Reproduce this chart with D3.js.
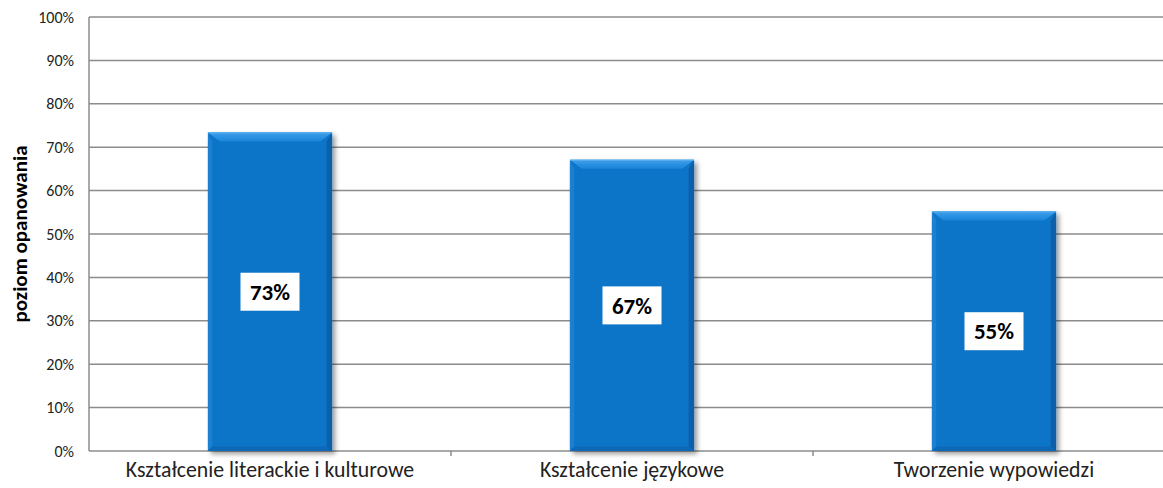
<!DOCTYPE html>
<html><head><meta charset="utf-8">
<script src="https://cdn.jsdelivr.net/npm/d3@7"></script>
<style>body{margin:0;background:#fff}svg{display:block}</style>
</head><body>
<svg id="c" width="1163" height="488"></svg>
<script>
const categories = ["Kształcenie literackie i kulturowe","Kształcenie językowe","Tworzenie wypowiedzi"];
const values = [0.734, 0.671, 0.552];
const yTicks = [0,0.1,0.2,0.3,0.4,0.5,0.6,0.7,0.8,0.9,1.0];
const yTitle = "poziom opanowania";

const svg = d3.select("#c");
const font = "Carlito, Calibri, Lato, 'Open Sans', sans-serif";
const m = {l:89, t:17, r:1175, b:451};
const x = d3.scaleBand().domain(categories).range([m.l, m.r]).paddingInner(0.657).paddingOuter(0.3285);
const y = d3.scaleLinear().domain([0,1]).range([m.b, m.t]);

const defs = svg.append("defs");
const f = defs.append("filter").attr("id","sh").attr("x","-20%").attr("y","-20%").attr("width","140%").attr("height","140%");
f.append("feGaussianBlur").attr("in","SourceAlpha").attr("stdDeviation",2.5).attr("result","b");
f.append("feOffset").attr("in","b").attr("dx",2.5).attr("dy",2.5).attr("result","o");
f.append("feComponentTransfer").attr("in","o").attr("result","o2").append("feFuncA").attr("type","linear").attr("slope",0.4);
const fm = f.append("feMerge"); fm.append("feMergeNode").attr("in","o2"); fm.append("feMergeNode").attr("in","SourceGraphic");

const gTop = defs.append("linearGradient").attr("id","gt").attr("x1",0).attr("y1",0).attr("x2",0).attr("y2",1);
gTop.append("stop").attr("offset","0%").attr("stop-color","#3f9fea");
gTop.append("stop").attr("offset","100%").attr("stop-color","#1a84d9");

// gridlines
svg.append("g").selectAll("line").data(yTicks).join("line")
  .attr("x1", m.l).attr("x2", m.r).attr("y1", d=>y(d)).attr("y2", d=>y(d))
  .attr("stroke","#8c8c8c").attr("stroke-width",1.5);

// y axis line
svg.append("line").attr("x1",m.l).attr("x2",m.l).attr("y1",m.t).attr("y2",m.b)
  .attr("stroke","#8c8c8c").attr("stroke-width",1.5);

// y tick labels
svg.append("g").selectAll("text").data(yTicks).join("text")
  .attr("x", 74).attr("y", d=>y(d)).attr("dy","0.35em").attr("text-anchor","end")
  .attr("font-family",font).attr("font-size",16).attr("fill","#222")
  .text(d=>d3.format(".0%")(d));

// category tick marks (between bands)
const bounds = categories.slice(0,-1).map(c=>x(c) + x.bandwidth()/2 + x.step()/2);
svg.append("g").selectAll("line").data(bounds).join("line")
  .attr("x1",d=>d).attr("x2",d=>d).attr("y1",m.b).attr("y2",m.b+5)
  .attr("stroke","#8c8c8c").attr("stroke-width",1.5);

// bars
const bv = 9;
const bars = svg.append("g").selectAll("g").data(categories).join("g").attr("filter","url(#sh)");
bars.each(function(c,i){
  const g = d3.select(this);
  const x0 = x(c), x1 = x(c)+x.bandwidth(), y0 = y(values[i]), y1 = y(0);
  g.append("rect").attr("x",x0).attr("y",y0).attr("width",x1-x0).attr("height",y1-y0).attr("fill","#0a74c8");
  g.append("polygon").attr("points",[[x0,y0],[x0+bv*0.5,y0+bv],[x0+bv*0.5,y1-bv*0.5],[x0,y1]].join(" ")).attr("fill","#1a7fd0");
  g.append("polygon").attr("points",[[x1,y0],[x1-bv*0.6,y0+bv],[x1-bv*0.6,y1-bv*0.5],[x1,y1]].join(" ")).attr("fill","#075fa8");
  g.append("polygon").attr("points",[[x0,y1],[x0+bv*0.5,y1-bv*0.5],[x1-bv*0.6,y1-bv*0.5],[x1,y1]].join(" ")).attr("fill","#0867b6");
  g.append("polygon").attr("points",[[x0,y0],[x1,y0],[x1-bv*1.3,y0+bv],[x0+bv*1.3,y0+bv]].join(" ")).attr("fill","url(#gt)");
  g.append("line").attr("x1",x0).attr("x2",x1).attr("y1",y0+0.5).attr("y2",y0+0.5).attr("stroke","#5db0f0").attr("stroke-width",1);
});

// value labels
const lab = svg.append("g").selectAll("g").data(categories).join("g")
  .attr("transform",(c,i)=>`translate(${x(c)+x.bandwidth()/2},${(y(values[i])+y(0))/2})`);
lab.append("rect").attr("x",-29.5).attr("y",-19).attr("width",59).attr("height",38).attr("fill","#fff");
lab.append("text").attr("text-anchor","middle").attr("dy","0.36em")
  .attr("font-family",font).attr("font-weight","bold").attr("font-size",23).attr("fill","#000")
  .text((c,i)=>d3.format(".0%")(values[i]));

// category labels
svg.append("g").selectAll("text").data(categories).join("text")
  .attr("x",c=>x(c)+x.bandwidth()/2).attr("y",477).attr("text-anchor","middle")
  .attr("font-family",font).attr("font-size",21.8).attr("fill","#222").text(c=>c);

// y title
svg.append("text").attr("transform",`translate(27,${(m.t+m.b)/2}) rotate(-90)`)
  .attr("text-anchor","middle").attr("font-family",font).attr("font-weight","bold")
  .attr("font-size",21).attr("fill","#000").text(yTitle);
</script>
</body></html>
